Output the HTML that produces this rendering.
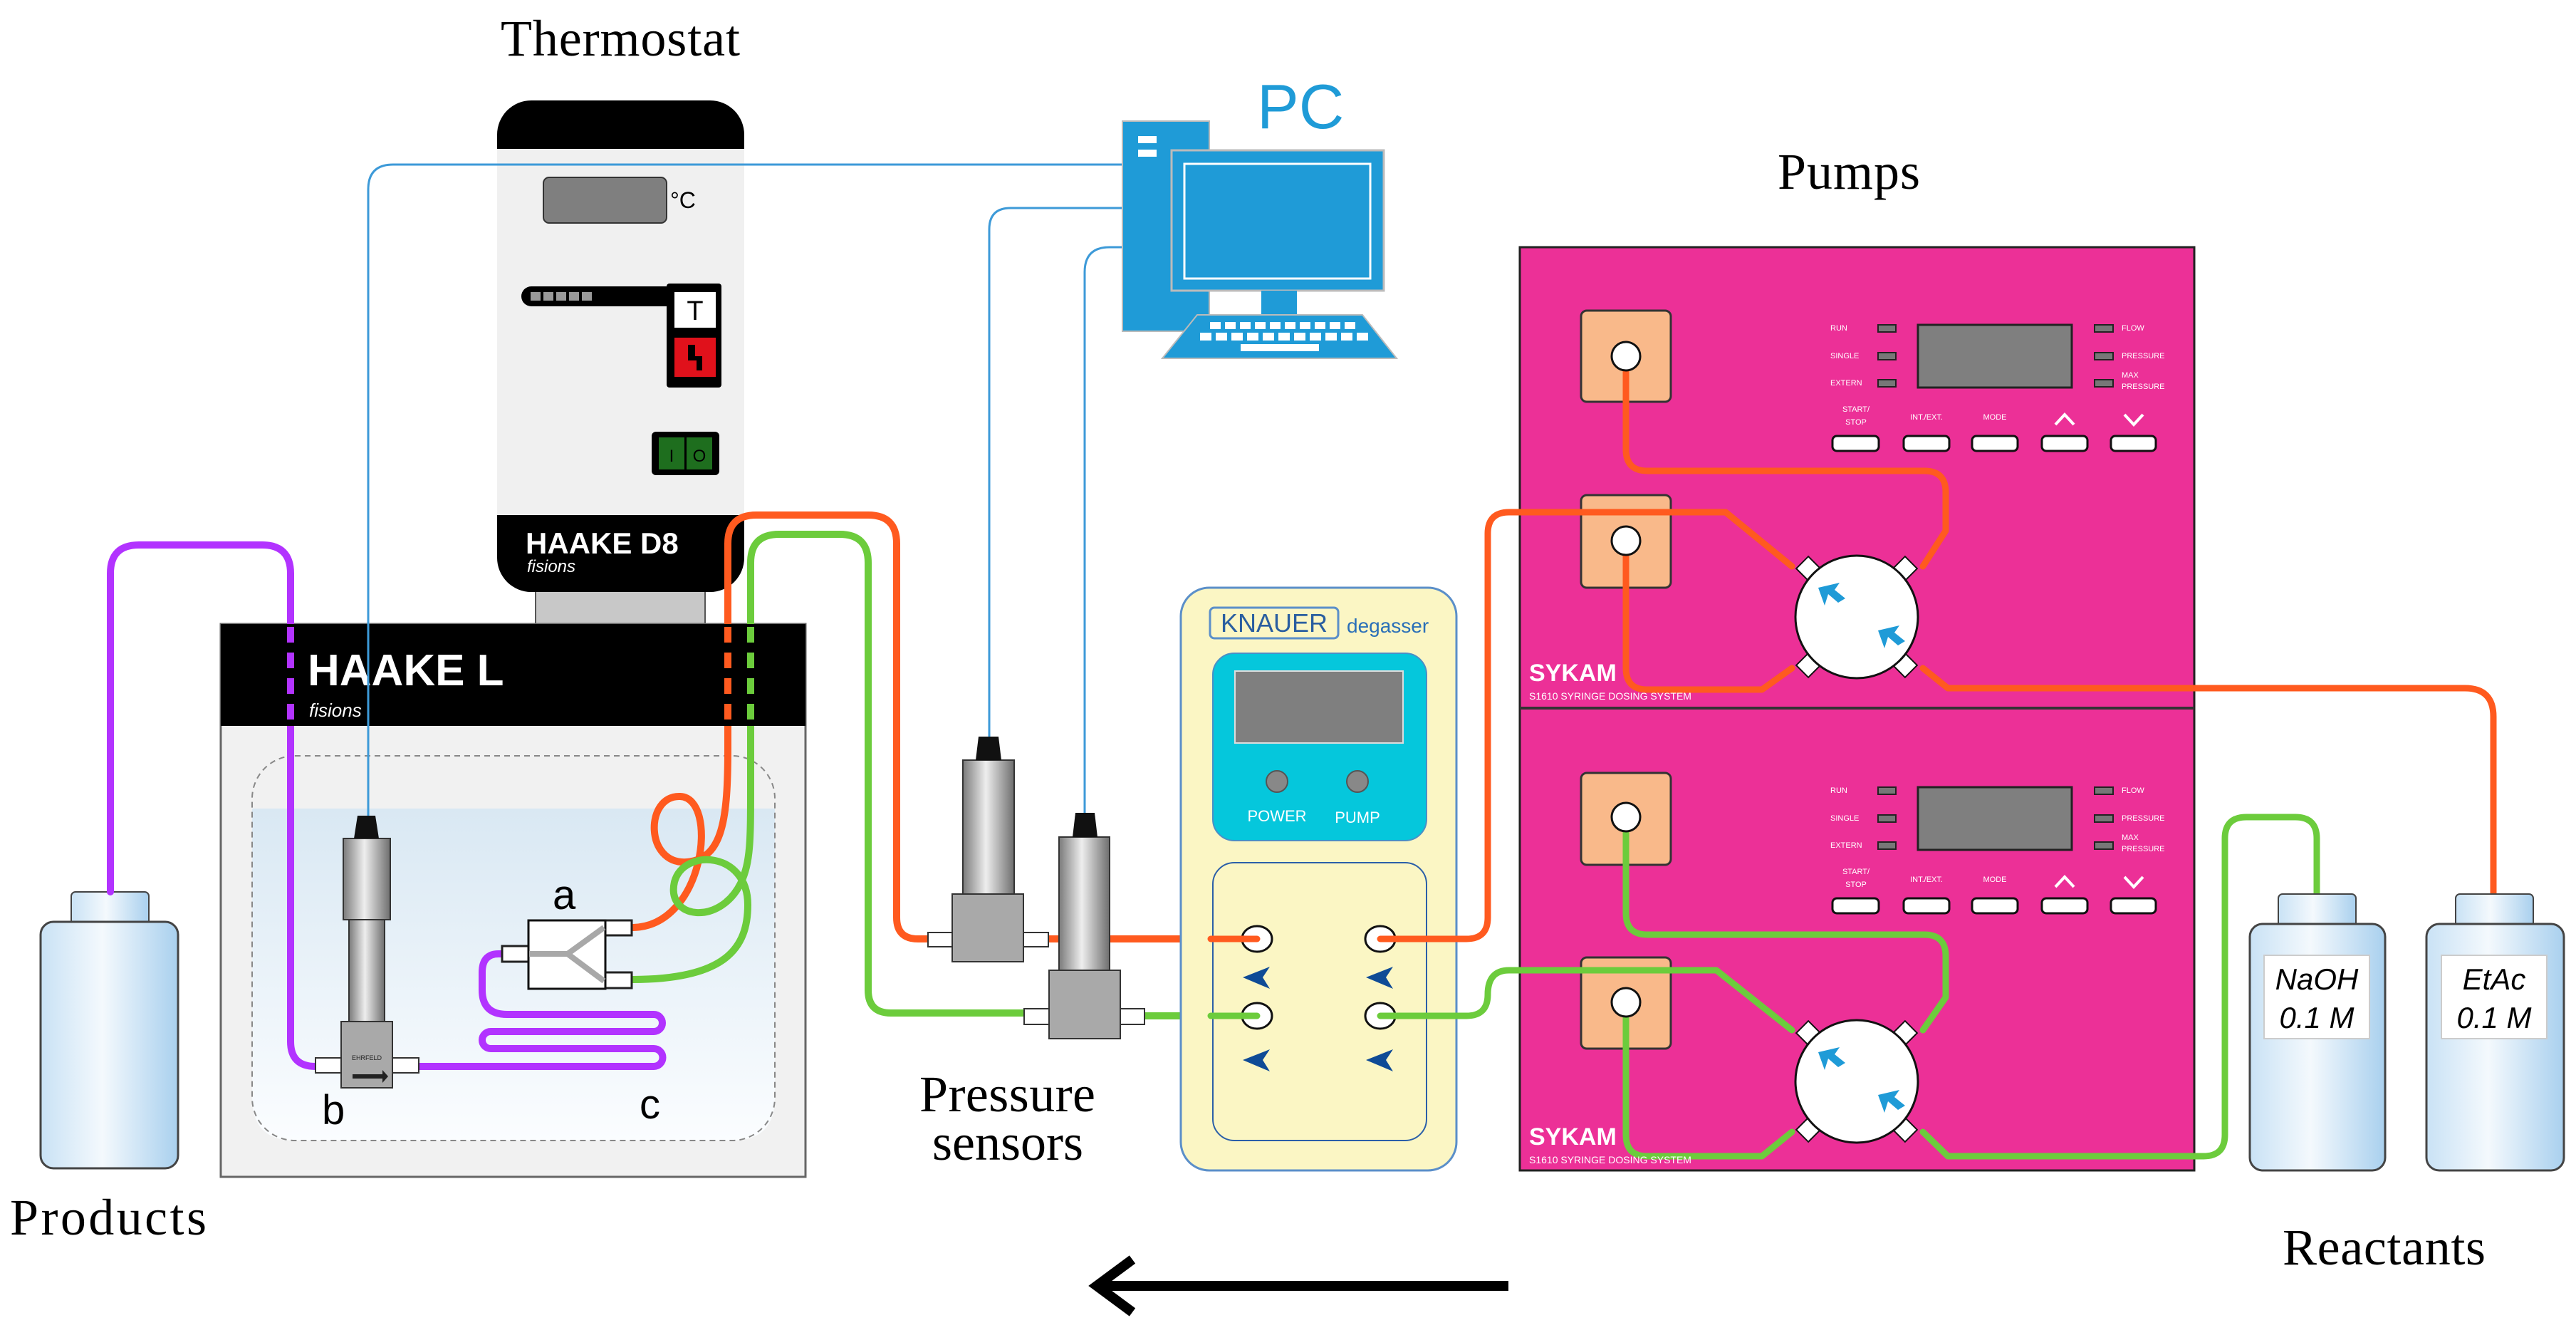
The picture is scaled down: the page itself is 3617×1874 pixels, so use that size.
<!DOCTYPE html>
<html><head><meta charset="utf-8"><style>
html,body{margin:0;padding:0;background:#fff;}
svg{display:block;}
</style></head><body>
<svg width="3617" height="1874" viewBox="0 0 3617 1874" xmlns="http://www.w3.org/2000/svg">
<defs>
<linearGradient id="water" x1="0" y1="0" x2="0" y2="1"><stop offset="0" stop-color="#d9e8f3"/><stop offset="1" stop-color="#fbfdff"/></linearGradient>
<linearGradient id="bottle" x1="0" y1="0" x2="1" y2="0"><stop offset="0" stop-color="#c9e2f5"/><stop offset="0.45" stop-color="#f4f9fd"/><stop offset="1" stop-color="#a9d0ee"/></linearGradient>
<linearGradient id="cyl" x1="0" y1="0" x2="1" y2="0"><stop offset="0" stop-color="#7a7a7a"/><stop offset="0.45" stop-color="#eeeeee"/><stop offset="1" stop-color="#6e6e6e"/></linearGradient>
</defs>

<!-- Titles -->
<g font-family="Liberation Serif, serif" fill="#000">
<text x="703" y="78" font-size="72" textLength="336">Thermostat</text>
<text x="14" y="1733" font-size="72" textLength="276">Products</text>
<text x="1291" y="1560" font-size="72" textLength="247">Pressure</text>
<text x="1309" y="1628" font-size="72" textLength="212">sensors</text>
<text x="2496" y="265" font-size="72" textLength="200">Pumps</text>
<text x="3205" y="1775" font-size="72" textLength="285">Reactants</text>
</g>

<!-- Thermostat -->
<rect x="752" y="825" width="238" height="55" fill="#c8c8c8" stroke="#555" stroke-width="2"/>
<rect x="698" y="141" width="347" height="690" rx="48" fill="#000"/>
<rect x="698" y="209" width="347" height="514" fill="#f0f0f0"/>
<rect x="763" y="249" width="173" height="64" rx="8" fill="#7f7f7f" stroke="#333" stroke-width="2"/>
<text x="941" y="292" font-family="Liberation Sans, sans-serif" font-size="32" fill="#000">°C</text>
<rect x="732" y="402" width="225" height="28" rx="14" fill="#000"/>
<g fill="#999"><rect x="745" y="410" width="14" height="12"/><rect x="763" y="410" width="14" height="12"/><rect x="781" y="410" width="14" height="12"/><rect x="799" y="410" width="14" height="12"/><rect x="817" y="410" width="14" height="12"/></g>
<rect x="936" y="398" width="77" height="146" rx="4" fill="#000"/>
<rect x="947" y="410" width="58" height="50" fill="#fff"/>
<text x="976" y="449" text-anchor="middle" font-family="Liberation Sans, sans-serif" font-size="38" fill="#000">T</text>
<rect x="947" y="474" width="58" height="55" fill="#e0111b"/>
<path d="M966,484 h10 v16 h10 v20 h-8 v-14 h-12z" fill="#000"/>
<rect x="915" y="606" width="95" height="61" rx="6" fill="#000"/>
<rect x="925" y="614" width="36" height="45" fill="#1e6e1e"/><rect x="964" y="614" width="36" height="45" fill="#1e6e1e"/>
<text x="943" y="648" text-anchor="middle" font-size="24" font-family="Liberation Sans, sans-serif" fill="#000">I</text>
<text x="982" y="648" text-anchor="middle" font-size="24" font-family="Liberation Sans, sans-serif" fill="#000">O</text>
<text x="738" y="777" font-family="Liberation Sans, sans-serif" font-weight="bold" font-size="42" fill="#fff">HAAKE D8</text>
<text x="740" y="803" font-family="Liberation Sans, sans-serif" font-style="italic" font-size="24" fill="#fff">fisions</text>

<!-- Bath -->
<rect x="310" y="876" width="821" height="776" fill="#f1f1f1" stroke="#666" stroke-width="3"/>
<path d="M354,1135 H1088 V1541 Q1088,1601 1028,1601 H414 Q354,1601 354,1541Z" fill="url(#water)"/>
<rect x="354" y="1061" width="734" height="540" rx="60" fill="none" stroke="#888" stroke-width="2" stroke-dasharray="8,6"/>

<!-- Products bottle -->
<rect x="100" y="1252" width="109" height="46" rx="6" fill="url(#bottle)" stroke="#444" stroke-width="2"/>
<rect x="57" y="1294" width="193" height="346" rx="18" fill="url(#bottle)" stroke="#444" stroke-width="3"/>

<!-- Tubes -->
<g fill="none" stroke-width="10" stroke-linecap="round" stroke-linejoin="round">
<path stroke="#b233ff" d="M155,1252 L155,805 Q155,765 195,765 L368,765 Q408,765 408,805 L408,1462 Q408,1497 443,1497"/>
<path stroke="#b233ff" d="M588,1497 L918,1497 A12,12 0 0 0 918,1472 L689,1472 A12,12 0 0 1 689,1448 L918,1448 A12,12 0 0 0 918,1424 L712,1424 Q677,1424 677,1390 L677,1365 Q677,1339 700,1339 L705,1339"/>
<path stroke="#ff5a1f" d="M887,1302 C990,1302 1010,1120 955,1118 C905,1116 905,1215 965,1210 C1015,1205 1022,1150 1022,1050 L1022,763 Q1022,723 1062,723 L1219,723 Q1259,723 1259,763 L1259,1288 Q1259,1318 1289,1318 L1303,1318"/>
<path stroke="#6ccc3c" d="M887,1375 C1020,1375 1050,1330 1050,1270 C1050,1195 960,1190 947,1238 C935,1290 1010,1300 1040,1240 C1054,1210 1054,1180 1054,1100 L1054,790 Q1054,750 1094,750 L1179,750 Q1219,750 1219,790 L1219,1390 Q1219,1422 1251,1422 L1438,1422"/>
<path stroke="#ff5a1f" d="M1472,1318 L1765,1318"/>
<path stroke="#6ccc3c" d="M1607,1426 L1765,1426"/>
</g>
<!-- Header of bath -->
<rect x="310" y="876" width="821" height="143" fill="#000"/>
<g stroke-width="10" stroke-dasharray="22,14">
<line x1="408" y1="880" x2="408" y2="1019" stroke="#b233ff"/>
<line x1="1022" y1="880" x2="1022" y2="1019" stroke="#ff5a1f"/>
<line x1="1054" y1="880" x2="1054" y2="1019" stroke="#6ccc3c"/>
</g>
<text x="432" y="962" font-family="Liberation Sans, sans-serif" font-weight="bold" font-size="62" fill="#fff">HAAKE L</text>
<text x="434" y="1006" font-family="Liberation Sans, sans-serif" font-style="italic" font-size="26" fill="#fff">fisions</text>

<!-- connector a -->
<rect x="705" y="1328" width="37" height="22" fill="#fff" stroke="#222" stroke-width="3"/>
<rect x="850" y="1292" width="37" height="21" fill="#fff" stroke="#222" stroke-width="3"/>
<rect x="850" y="1365" width="37" height="22" fill="#fff" stroke="#222" stroke-width="3"/>
<rect x="742" y="1292" width="108" height="96" fill="#fff" stroke="#111" stroke-width="3"/>
<path d="M743,1339 L797,1339 L848,1302 M797,1339 L848,1377" fill="none" stroke="#a8a8a8" stroke-width="8"/>
<g font-family="Liberation Sans, sans-serif" font-size="58" fill="#000">
<text x="776" y="1276">a</text><text x="452" y="1578">b</text><text x="898" y="1570">c</text>
</g>

<!-- Sensor b -->
<rect x="443" y="1485" width="36" height="21" fill="#fff" stroke="#333" stroke-width="2"/>
<rect x="551" y="1485" width="37" height="21" fill="#fff" stroke="#333" stroke-width="2"/>
<rect x="490" y="1291" width="50" height="143" fill="url(#cyl)" stroke="#333" stroke-width="2"/>
<rect x="482" y="1177" width="66" height="114" fill="url(#cyl)" stroke="#333" stroke-width="2"/>
<path d="M497,1177 L502,1145 H527 L532,1177Z" fill="#111"/>
<rect x="479" y="1434" width="72" height="93" fill="#a9a9a9" stroke="#333" stroke-width="2"/>
<path d="M495,1508 h42 v-6 l8,9 l-8,9 v-6 h-42z" fill="#222"/>
<text x="515" y="1488" text-anchor="middle" font-size="9" font-family="Liberation Sans, sans-serif" fill="#222">EHRFELD</text>

<!-- Pressure sensors -->
<rect x="1303" y="1309" width="34" height="20" fill="#fff" stroke="#333" stroke-width="2"/>
<rect x="1437" y="1309" width="35" height="20" fill="#fff" stroke="#333" stroke-width="2"/>
<rect x="1352" y="1067" width="72" height="188" fill="url(#cyl)" stroke="#333" stroke-width="2"/>
<path d="M1370,1067 L1374,1034 H1402 L1406,1067Z" fill="#111"/>
<rect x="1337" y="1255" width="100" height="95" fill="#a9a9a9" stroke="#333" stroke-width="2"/>
<rect x="1438" y="1416" width="35" height="22" fill="#fff" stroke="#333" stroke-width="2"/>
<rect x="1573" y="1416" width="34" height="22" fill="#fff" stroke="#333" stroke-width="2"/>
<rect x="1487" y="1175" width="71" height="187" fill="url(#cyl)" stroke="#333" stroke-width="2"/>
<path d="M1506,1175 L1510,1141 H1537 L1541,1175Z" fill="#111"/>
<rect x="1473" y="1362" width="100" height="96" fill="#a9a9a9" stroke="#333" stroke-width="2"/>

<!-- Signal lines -->
<g fill="none" stroke="#3d9ad8" stroke-width="3">
<path d="M517,1145 L517,266 Q517,231 552,231 L1578,231"/>
<path d="M1389,1034 L1389,322 Q1389,292 1419,292 L1578,292"/>
<path d="M1523,1141 L1523,382 Q1523,347 1558,347 L1578,347"/>
</g>

<!-- PC -->
<text x="1765" y="180" font-family="Liberation Sans, sans-serif" font-size="88" fill="#1f9bd7">PC</text>
<rect x="1576" y="170" width="122" height="295" fill="#1f9bd7" stroke="#bbb" stroke-width="2"/>
<rect x="1598" y="191" width="26" height="10" fill="#fff"/><rect x="1598" y="210" width="26" height="10" fill="#fff"/>
<rect x="1645" y="211" width="298" height="197" fill="#1f9bd7" stroke="#bbb" stroke-width="3"/>
<rect x="1663" y="230" width="261" height="161" fill="#1f9bd7" stroke="#fff" stroke-width="3"/>
<rect x="1771" y="408" width="50" height="34" fill="#1f9bd7"/>
<path d="M1681,442 H1913 L1961,503 H1632Z" fill="#1f9bd7" stroke="#bbb" stroke-width="2"/>
<g fill="#fff">
<rect x="1699" y="452" width="15" height="10"/><rect x="1720" y="452" width="15" height="10"/><rect x="1741" y="452" width="15" height="10"/><rect x="1762" y="452" width="15" height="10"/><rect x="1783" y="452" width="15" height="10"/><rect x="1804" y="452" width="15" height="10"/><rect x="1825" y="452" width="15" height="10"/><rect x="1846" y="452" width="15" height="10"/><rect x="1867" y="452" width="15" height="10"/><rect x="1888" y="452" width="15" height="10"/>
<rect x="1685" y="467" width="16" height="11"/><rect x="1707" y="467" width="16" height="11"/><rect x="1729" y="467" width="16" height="11"/><rect x="1751" y="467" width="16" height="11"/><rect x="1773" y="467" width="16" height="11"/><rect x="1795" y="467" width="16" height="11"/><rect x="1817" y="467" width="16" height="11"/><rect x="1839" y="467" width="16" height="11"/><rect x="1861" y="467" width="16" height="11"/><rect x="1883" y="467" width="16" height="11"/><rect x="1905" y="467" width="16" height="11"/>
<rect x="1742" y="483" width="110" height="10"/>
</g>

<!-- Degasser -->
<rect x="1658" y="825" width="387" height="818" rx="40" fill="#fbf6c4" stroke="#5b8fc9" stroke-width="3"/>
<rect x="1699" y="853" width="180" height="43" rx="6" fill="none" stroke="#5b8fc9" stroke-width="3"/>
<text x="1789" y="887" text-anchor="middle" font-family="Liberation Sans, sans-serif" font-size="36" fill="#2a5ea0">KNAUER</text>
<text x="1891" y="888" font-family="Liberation Sans, sans-serif" font-size="28" fill="#2a6fb8">degasser</text>
<rect x="1703" y="917" width="300" height="263" rx="30" fill="#05c7dc" stroke="#4a8fc6" stroke-width="2"/>
<rect x="1734" y="942" width="236" height="101" fill="#7f7f7f" stroke="#ddd" stroke-width="2"/>
<circle cx="1793" cy="1097" r="15" fill="#888" stroke="#555" stroke-width="2"/>
<circle cx="1906" cy="1097" r="15" fill="#888" stroke="#555" stroke-width="2"/>
<text x="1793" y="1153" text-anchor="middle" font-family="Liberation Sans, sans-serif" font-size="22" fill="#fff">POWER</text>
<text x="1906" y="1155" text-anchor="middle" font-family="Liberation Sans, sans-serif" font-size="22" fill="#fff">PUMP</text>
<rect x="1703" y="1211" width="300" height="390" rx="30" fill="#fbf6c4" stroke="#2b5fa8" stroke-width="2"/>
<g fill="#fff" stroke="#111" stroke-width="3">
<ellipse cx="1765" cy="1318" rx="21" ry="18"/><ellipse cx="1938" cy="1318" rx="21" ry="18"/>
<ellipse cx="1765" cy="1426" rx="21" ry="18"/><ellipse cx="1938" cy="1426" rx="21" ry="18"/>
</g>
<g fill="#0f4b96">
<path d="M1783,1357 L1745,1372 L1783,1388 L1773,1372Z"/><path d="M1956,1357 L1918,1372 L1956,1388 L1946,1372Z"/>
<path d="M1783,1473 L1745,1488 L1783,1504 L1773,1488Z"/><path d="M1956,1473 L1918,1488 L1956,1504 L1946,1488Z"/>
</g>
<g stroke-width="9" stroke-linecap="round">
<line x1="1700" y1="1318" x2="1765" y2="1318" stroke="#ff5a1f"/>
<line x1="1700" y1="1426" x2="1765" y2="1426" stroke="#6ccc3c"/>
</g>

<!-- Pumps -->
<rect x="2134" y="347" width="947" height="1296" fill="#ec3097" stroke="#222" stroke-width="3"/>
<line x1="2134" y1="994" x2="3081" y2="994" stroke="#333" stroke-width="4"/>

<g id="panel1" font-family="Liberation Sans, sans-serif" font-size="11" fill="#fff">
<text x="2570" y="464">RUN</text><text x="2570" y="503">SINGLE</text><text x="2570" y="541">EXTERN</text>
<rect x="2637" y="456" width="25" height="10" fill="#777" stroke="#222" stroke-width="2"/>
<rect x="2637" y="495" width="25" height="10" fill="#777" stroke="#222" stroke-width="2"/>
<rect x="2637" y="533" width="25" height="10" fill="#777" stroke="#222" stroke-width="2"/>
<rect x="2693" y="456" width="216" height="88" fill="#7f7f7f" stroke="#222" stroke-width="3"/>
<rect x="2941" y="456" width="26" height="10" fill="#777" stroke="#222" stroke-width="2"/>
<rect x="2941" y="495" width="26" height="10" fill="#777" stroke="#222" stroke-width="2"/>
<rect x="2941" y="533" width="26" height="10" fill="#777" stroke="#222" stroke-width="2"/>
<text x="2979" y="464">FLOW</text><text x="2979" y="503">PRESSURE</text><text x="2979" y="530">MAX</text><text x="2979" y="546">PRESSURE</text>
<text x="2606" y="578" text-anchor="middle">START/</text><text x="2606" y="596" text-anchor="middle">STOP</text>
<text x="2705" y="589" text-anchor="middle">INT./EXT.</text><text x="2801" y="589" text-anchor="middle">MODE</text>
<path d="M2886,596 L2899,582 L2912,596 M2983,582 L2996,596 L3009,582" fill="none" stroke="#fff" stroke-width="4"/>
<g fill="#fff" stroke="#111" stroke-width="3">
<rect x="2573" y="612" width="65" height="21" rx="6"/><rect x="2673" y="612" width="64" height="21" rx="6"/><rect x="2769" y="612" width="64" height="21" rx="6"/><rect x="2867" y="612" width="64" height="21" rx="6"/><rect x="2964" y="612" width="63" height="21" rx="6"/>
</g>
</g>
<use href="#panel1" transform="translate(0,649)"/>

<g fill="#f9b98a" stroke="#333" stroke-width="3">
<rect x="2220" y="436" width="126" height="128" rx="8"/><rect x="2220" y="695" width="126" height="130" rx="8"/>
<rect x="2220" y="1085" width="126" height="129" rx="8"/><rect x="2220" y="1344" width="126" height="128" rx="8"/>
</g>

<!-- pump tubes -->
<g fill="none" stroke-width="9" stroke-linecap="round" stroke-linejoin="round">
<path stroke="#ff5a1f" d="M1938,1318 L2059,1318 Q2089,1318 2089,1288 L2089,749 Q2089,719 2119,719 L2423,719 L2516,795"/>
<path stroke="#ff5a1f" d="M2283,500 L2283,631 Q2283,661 2313,661 L2702,661 Q2732,661 2732,691 L2732,745 L2700,795"/>
<path stroke="#ff5a1f" d="M2283,759 L2283,938 Q2283,968 2313,968 L2474,968 L2516,938"/>
<path stroke="#ff5a1f" d="M2700,938 L2735,966 L3461,966 Q3501,966 3501,1006 L3501,1255"/>
<path stroke="#6ccc3c" d="M1938,1426 L2059,1426 Q2089,1426 2089,1396 Q2089,1362 2119,1362 L2410,1362 L2516,1446"/>
<path stroke="#6ccc3c" d="M2283,1147 L2283,1282 Q2283,1312 2313,1312 L2702,1312 Q2732,1312 2732,1342 L2732,1400 L2700,1446"/>
<path stroke="#6ccc3c" d="M2283,1407 L2283,1593 Q2283,1623 2313,1623 L2474,1623 L2516,1589"/>
<path stroke="#6ccc3c" d="M2700,1589 L2735,1623 L3094,1623 Q3124,1623 3124,1593 L3124,1177 Q3124,1147 3154,1147 L3223,1147 Q3253,1147 3253,1177 L3253,1255"/>
</g>
<g fill="#fff" stroke="#111" stroke-width="3">
<circle cx="2283" cy="500" r="20"/><circle cx="2283" cy="759" r="20"/><circle cx="2283" cy="1147" r="20"/><circle cx="2283" cy="1407" r="20"/>
</g>

<g id="valve1">
<g fill="#fff" stroke="#111" stroke-width="2">
<rect x="-12" y="-108" width="24" height="36" transform="translate(2607,866) rotate(-45)"/>
<rect x="-12" y="-108" width="24" height="36" transform="translate(2607,866) rotate(45)"/>
<rect x="-12" y="-108" width="24" height="36" transform="translate(2607,866) rotate(135)"/>
<rect x="-12" y="-108" width="24" height="36" transform="translate(2607,866) rotate(-135)"/>
</g>
<circle cx="2607" cy="866" r="86" fill="#fff" stroke="#111" stroke-width="3"/>
<path d="M2553,825 L2583,818 L2576,828 L2591,840 L2581,846 L2567,834 L2562,850Z" fill="#1f9bd7"/>
<path d="M2637,885 L2667,878 L2660,888 L2675,900 L2665,906 L2651,894 L2646,910Z" fill="#1f9bd7"/>
</g>
<use href="#valve1" transform="translate(0,652)"/>

<g font-family="Liberation Sans, sans-serif" fill="#fff">
<text x="2147" y="956" font-weight="bold" font-size="34">SYKAM</text>
<text x="2147" y="982" font-size="14">S1610 SYRINGE DOSING SYSTEM</text>
<text x="2147" y="1607" font-weight="bold" font-size="34">SYKAM</text>
<text x="2147" y="1633" font-size="14">S1610 SYRINGE DOSING SYSTEM</text>
</g>

<!-- Reactant bottles -->
<rect x="3199" y="1255" width="109" height="46" rx="6" fill="url(#bottle)" stroke="#444" stroke-width="2"/>
<rect x="3159" y="1297" width="190" height="346" rx="18" fill="url(#bottle)" stroke="#444" stroke-width="3"/>
<rect x="3448" y="1255" width="109" height="46" rx="6" fill="url(#bottle)" stroke="#444" stroke-width="2"/>
<rect x="3407" y="1297" width="193" height="346" rx="18" fill="url(#bottle)" stroke="#444" stroke-width="3"/>
<rect x="3179" y="1341" width="148" height="117" fill="#fff" stroke="#ccc" stroke-width="2"/>
<rect x="3428" y="1341" width="148" height="117" fill="#fff" stroke="#ccc" stroke-width="2"/>
<g font-family="Liberation Sans, sans-serif" font-style="italic" font-size="42" fill="#000" text-anchor="middle">
<text x="3253" y="1389">NaOH</text><text x="3253" y="1443">0.1 M</text>
<text x="3502" y="1389">EtAc</text><text x="3502" y="1443">0.1 M</text>
</g>

<!-- Flow arrow -->
<line x1="1545" y1="1805" x2="2118" y2="1805" stroke="#000" stroke-width="14"/>
<path d="M1590,1768 L1540,1805 L1590,1842" fill="none" stroke="#000" stroke-width="14" stroke-linejoin="miter"/>
</svg>
</body></html>
